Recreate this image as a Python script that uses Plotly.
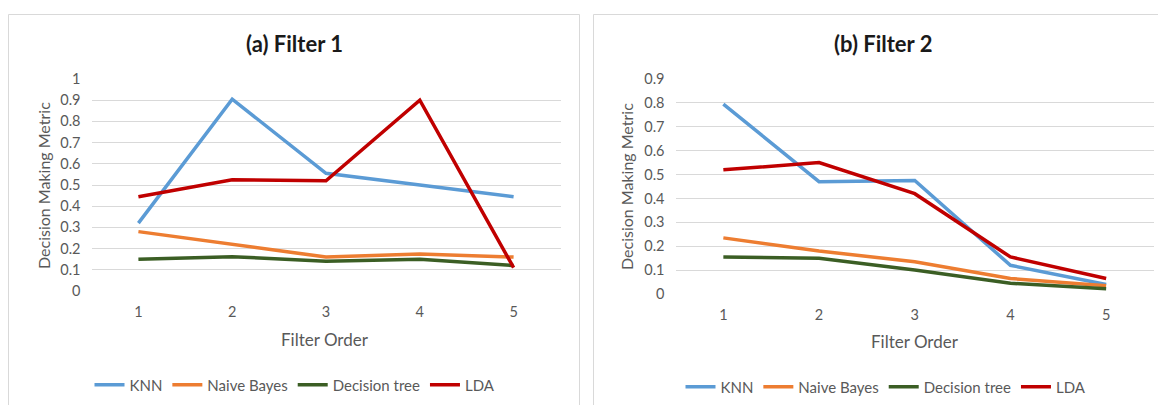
import plotly.graph_objects as go

W, H = 1158, 405

filter_order = [1, 2, 3, 4, 5]
series_names = ["KNN", "Naive Bayes", "Decision tree", "LDA"]
colors = ["#5B9BD5", "#ED7D31", "#3B5E24", "#C00000"]

# Panel (a) Filter 1
f1_knn = [0.32, 0.905, 0.555, 0.50, 0.445]
f1_nb = [0.28, 0.22, 0.16, 0.175, 0.16]
f1_dt = [0.15, 0.162, 0.14, 0.15, 0.12]
f1_lda = [0.445, 0.525, 0.52, 0.90, 0.11]

# Panel (b) Filter 2
f2_knn = [0.795, 0.47, 0.475, 0.12, 0.04]
f2_nb = [0.235, 0.18, 0.135, 0.065, 0.035]
f2_dt = [0.155, 0.15, 0.10, 0.045, 0.022]
f2_lda = [0.52, 0.55, 0.42, 0.155, 0.065]

y1_ticks = [0, 0.1, 0.2, 0.3, 0.4, 0.5, 0.6, 0.7, 0.8, 0.9, 1.0]
y1_labels = ["0", "0.1", "0.2", "0.3", "0.4", "0.5", "0.6", "0.7", "0.8", "0.9", "1"]
y2_ticks = [0, 0.1, 0.2, 0.3, 0.4, 0.5, 0.6, 0.7, 0.8, 0.9]
y2_labels = ["0", "0.1", "0.2", "0.3", "0.4", "0.5", "0.6", "0.7", "0.8", "0.9"]

FONT = "Lato"
TXT = "#595959"

def px(x):
    return x / W

def py(y):
    return 1 - y / H

fig = go.Figure()

for name, vals, c in zip(series_names, [f1_knn, f1_nb, f1_dt, f1_lda], colors):
    fig.add_trace(go.Scatter(x=filter_order, y=vals, mode="lines", name=name,
                             line=dict(color=c, width=3.5), xaxis="x", yaxis="y",
                             legend="legend"))
for name, vals, c in zip(series_names, [f2_knn, f2_nb, f2_dt, f2_lda], colors):
    fig.add_trace(go.Scatter(x=filter_order, y=vals, mode="lines", name=name,
                             line=dict(color=c, width=3.5), xaxis="x2", yaxis="y2",
                             legend="legend2"))

axis_common = dict(showline=False, zeroline=False, ticks="", automargin=False,
                   tickfont=dict(family=FONT, size=14.5, color=TXT))

fig.update_layout(
    width=W, height=H,
    margin=dict(l=0, r=0, t=0, b=0, autoexpand=False),
    paper_bgcolor="white", plot_bgcolor="white",
    font=dict(family=FONT, color=TXT),
    xaxis=dict(domain=[px(91.5), px(560.5)], range=[0.5, 5.5], tickvals=filter_order,
               showgrid=False, anchor="y", ticklabelstandoff=10, **axis_common),
    yaxis=dict(domain=[py(291), py(79)], range=[0, 1.0], tickvals=y1_ticks,
               ticktext=y1_labels, showgrid=True, gridcolor="#D9D9D9", gridwidth=1,
               anchor="x", ticklabelstandoff=10, **axis_common),
    xaxis2=dict(domain=[px(675.5), px(1154)], range=[0.5, 5.5], tickvals=filter_order,
                showgrid=False, anchor="y2", ticklabelstandoff=10, **axis_common),
    yaxis2=dict(domain=[py(294), py(79)], range=[0, 0.9], tickvals=y2_ticks,
                ticktext=y2_labels, showgrid=True, gridcolor="#D9D9D9", gridwidth=1,
                anchor="x2", ticklabelstandoff=10, **axis_common),
    legend=dict(orientation="h", x=px(295), xanchor="center", y=py(385), yanchor="middle",
                font=dict(family=FONT, size=15, color=TXT), bgcolor="rgba(0,0,0,0)",
                itemwidth=30, tracegroupgap=0),
    legend2=dict(orientation="h", x=px(886), xanchor="center", y=py(387), yanchor="middle",
                 font=dict(family=FONT, size=15, color=TXT), bgcolor="rgba(0,0,0,0)",
                 itemwidth=30, tracegroupgap=0),
    showlegend=True,
)

# panel borders
fig.add_shape(type="rect", xref="paper", yref="paper", x0=px(8.5), x1=px(579.5),
              y0=py(420), y1=py(14.5), line=dict(color="#D9D9D9", width=1), layer="below")
fig.add_shape(type="rect", xref="paper", yref="paper", x0=px(593.5), x1=px(1175),
              y0=py(420), y1=py(14.5), line=dict(color="#D9D9D9", width=1), layer="below")

# titles
fig.add_annotation(text="<b>(a) Filter 1</b>", x=px(294), y=py(43), xref="paper", yref="paper",
                   xanchor="center", yanchor="middle", showarrow=False,
                   font=dict(family=FONT, size=22, color="#1a1a1a"))
fig.add_annotation(text="<b>(b) Filter 2</b>", x=px(883), y=py(43), xref="paper", yref="paper",
                   xanchor="center", yanchor="middle", showarrow=False,
                   font=dict(family=FONT, size=22, color="#1a1a1a"))

# axis titles
fig.add_annotation(text="Filter Order", x=px(325), y=py(339), xref="paper", yref="paper",
                   xanchor="center", yanchor="middle", showarrow=False,
                   font=dict(family=FONT, size=17, color=TXT))
fig.add_annotation(text="Filter Order", x=px(915), y=py(341), xref="paper", yref="paper",
                   xanchor="center", yanchor="middle", showarrow=False,
                   font=dict(family=FONT, size=17, color=TXT))
fig.add_annotation(text="Decision Making Metric", x=px(43), y=py(186), xref="paper", yref="paper",
                   xanchor="center", yanchor="middle", showarrow=False, textangle=-90,
                   font=dict(family=FONT, size=16, color=TXT))
fig.add_annotation(text="Decision Making Metric", x=px(627), y=py(187), xref="paper", yref="paper",
                   xanchor="center", yanchor="middle", showarrow=False, textangle=-90,
                   font=dict(family=FONT, size=16, color=TXT))

fig.write_html("out.html")
